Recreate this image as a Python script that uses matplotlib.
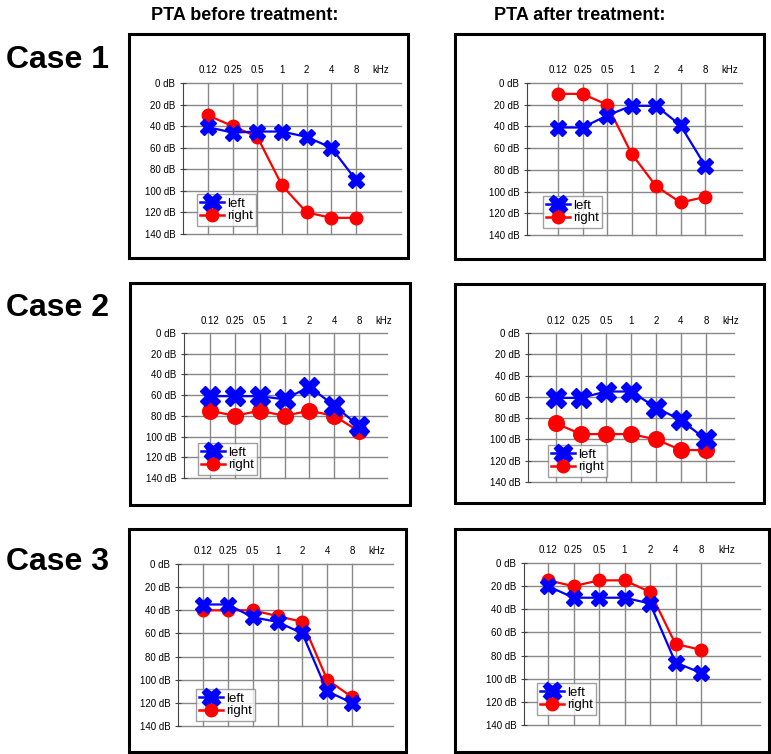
import matplotlib
matplotlib.use("Agg")
import matplotlib.pyplot as plt
from matplotlib.patches import Rectangle
from matplotlib.lines import Line2D

plt.rcParams['font.family'] = ['Liberation Sans', 'DejaVu Sans']

freqs = ["0.12", "0.25", "0.5", "1", "2", "4", "8"]
db_ticks = [0, 20, 40, 60, 80, 100, 120, 140]

c1_before_left = [41, 46, 45, 45, 50, 60, 90]
c1_before_right = [30, 40, 50, 95, 120, 125, 125]
c1_after_left = [41, 41, 30, 21, 21, 39, 76]
c1_after_right = [10, 10, 20, 65, 95, 110, 105]
c2_before_left = [61, 61, 61, 64, 52, 70, 90]
c2_before_right = [75, 80, 75, 80, 75, 80, 95]
c2_after_left = [61, 61, 55, 55, 70, 82, 100]
c2_after_right = [85, 95, 95, 95, 100, 110, 110]
c3_before_left = [35, 35, 46, 50, 60, 110, 120]
c3_before_right = [40, 40, 40, 45, 50, 100, 115]
c3_after_left = [20, 30, 30, 30, 35, 86, 95]
c3_after_right = [15, 20, 15, 15, 25, 70, 75]

W, H = 771, 754
fig = plt.figure(figsize=(W/100, H/100), dpi=100)

def fx(p): return p / W
def fy(p): return 1 - p / H

panels = [
    ((129, 34, 408, 258), 183, 208, 356, 401, 83, 234, (197, 194), 1.0, c1_before_left, c1_before_right),
    ((455, 34, 764, 259), 527, 558, 705, 742, 83, 235, (543, 196), 1.0, c1_after_left, c1_after_right),
    ((130, 283, 410, 505), 184, 210, 359, 387, 333, 478, (198, 443), 1.25, c2_before_left, c2_before_right),
    ((455, 284, 764, 503), 528, 556, 706, 734, 333, 482, (548, 445), 1.25, c2_after_left, c2_after_right),
    ((129, 529, 406, 752), 178, 203, 352, 393, 564, 726, (196, 689), 1.0, c3_before_left, c3_before_right),
    ((455, 529, 769, 752), 524, 548, 701, 760, 563, 725, (537, 683), 1.0, c3_after_left, c3_after_right),
]

for (box, axl, x0, x8, gr, y0, y140, leg, ms, left, right) in panels:
    l, t, r, b = box
    fig.patches.append(Rectangle((fx(l), fy(b)), fx(r - l), (b - t) / H,
                                 transform=fig.transFigure, fill=False,
                                 edgecolor='black', linewidth=2.2))
    s = (x8 - x0) / 6
    ax = fig.add_axes([fx(axl), fy(y140), fx(gr - axl), (y140 - y0) / H])
    ax.set_xlim((axl - x0) / s, (gr - x0) / s)
    ax.set_ylim(140, 0)
    xs = list(range(len(freqs)))
    for y in db_ticks:
        ax.axhline(y, color='#888888', lw=1.0, zorder=1, clip_on=False)
    for x in xs:
        ax.axvline(x, color='#888888', lw=1.0, zorder=1, clip_on=False)
    for sp in ['top', 'right', 'bottom']:
        ax.spines[sp].set_visible(False)
    ax.spines['left'].set_color('#444444')
    ax.set_xticks([])
    ax.set_yticks(db_ticks)
    ax.set_yticklabels([f"{v} dB" for v in db_ticks], fontsize=7)
    ax.tick_params(axis='y', direction='inout', length=5, color='#444444', pad=3)
    for x, lab in zip(xs, freqs):
        ax.text(x, -7, lab, ha='center', va='bottom', fontsize=7)
    ax.text(7, -7, "kHz", ha='center', va='bottom', fontsize=7)
    ax.plot(xs, left, color='#0000ff', lw=1.6, marker='X', markersize=11 * ms,
            markeredgecolor='#0000ff', zorder=4, clip_on=False)
    ax.plot(xs, right, color='#ff0000', lw=1.6, marker='o', markersize=9 * ms,
            markeredgecolor='#ff0000', zorder=3, clip_on=False)
    handles = [Line2D([], [], color='#0000ff', lw=1.8, marker='X', markersize=13),
               Line2D([], [], color='#ff0000', lw=1.8, marker='o', markersize=9)]
    fig.legend(handles, ['left', 'right'], loc='upper left',
               bbox_to_anchor=(fx(leg[0]), fy(leg[1])), fontsize=9.5,
               frameon=True, fancybox=False, edgecolor='#888888',
               handlelength=1.8, handletextpad=0.2, borderpad=0.25,
               labelspacing=0.05, borderaxespad=0)

fig.text(fx(245), fy(16), "PTA before treatment:", ha='center', va='center',
         fontsize=13, fontweight='bold')
fig.text(fx(580), fy(16), "PTA after treatment:", ha='center', va='center',
         fontsize=13, fontweight='bold')
for y, lab in [(60, "Case 1"), (308, "Case 2"), (562, "Case 3")]:
    fig.text(fx(6), fy(y), lab, ha='left', va='center', fontsize=23, fontweight='bold')

fig.savefig("out.png", dpi=100)
